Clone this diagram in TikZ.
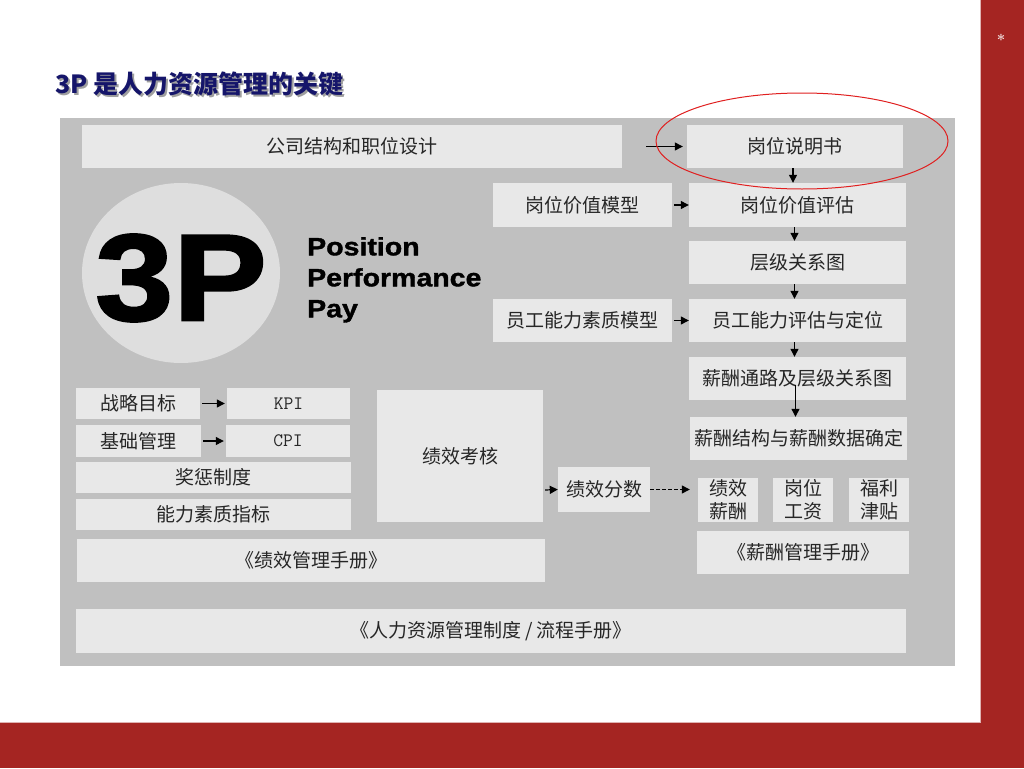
\documentclass[tikz,border=0pt]{standalone}
\usepackage{fontspec}
\newfontfamily\cjk{Noto Sans CJK SC}
\newfontfamily\blackfont[FakeStretch=1.14,FakeBold=1.5]{Liberation Sans Bold}
\newfontfamily\bigfont[FakeStretch=1.14,FakeBold=2]{Liberation Sans Bold}
\usetikzlibrary{arrows.meta}
\definecolor{panel}{HTML}{C0C0C0}
\definecolor{boxfill}{HTML}{E8E8E8}
\definecolor{brand}{HTML}{A52522}
\definecolor{navy}{HTML}{15156A}
\definecolor{disc}{HTML}{DEDEDE}
\definecolor{ovalred}{HTML}{E02020}
\tikzset{
  box/.style={fill=boxfill, inner sep=0pt, font=\cjk\fontsize{19}{23}\selectfont, align=center, text=black!85},
  lat/.style={fill=boxfill, inner sep=0pt, font=\ttfamily\fontsize{19}{23}\selectfont, text=black!85},
  arr/.style={-{Triangle[length=8pt,width=8pt]}, line width=1.2pt},
}
\begin{document}
\begin{tikzpicture}[x=1pt,y=-1pt]
\useasboundingbox (0,0) rectangle (1024,768);
\fill[white] (0,0) rectangle (1024,768);
% frame bands
\fill[brand] (980,0) rectangle (1024,768);
\fill[brand] (0,722) rectangle (1024,768);
\draw[brand!35, line width=0.8pt] (980,0) -- (980,722) -- (0,722);
\node[text=white!88!brand, font=\bfseries\fontsize{15}{15}\selectfont, inner sep=0] (star) at (1001,40) {*};

% title
\node[anchor=base west, font=\cjk\bfseries\fontsize{25}{25}\selectfont, text=gray!75, inner sep=0] (titleshadow) at (57,95) {3P 是人力资源管理的关键};
\node[anchor=base west, font=\cjk\bfseries\fontsize{25}{25}\selectfont, text=navy, inner sep=0] (title) at (55,93) {3P 是人力资源管理的关键};

% panel
\fill[panel] (60,118) rectangle (955,666);

% 3P disc
\fill[disc] (181,273) ellipse [x radius=99pt, y radius=90pt];
\node[font=\bigfont\fontsize{123}{123}\selectfont, inner sep=0] (threep) at (181,278) {3P};
\node[anchor=north west, align=left, font=\blackfont\fontsize{25}{31}\selectfont, inner sep=0] (ppp) at (307,237) {Position\\Performance\\Pay};

% right column
\node[box, minimum width=540pt, minimum height=43pt] (gs) at (352,146.5) {公司结构和职位设计};
\node[box, minimum width=216pt, minimum height=43pt] (gwsms) at (795,146.5) {岗位说明书};
\node[box, minimum width=179pt, minimum height=44pt] (gwjzmx) at (582.5,205) {岗位价值模型};
\node[box, minimum width=217pt, minimum height=44pt] (gwjzpg) at (797.5,205) {岗位价值评估};
\node[box, minimum width=217pt, minimum height=43pt] (cjgxt) at (797.5,262.5) {层级关系图};
\node[box, minimum width=179pt, minimum height=43pt] (ygmx) at (582.5,320.5) {员工能力素质模型};
\node[box, minimum width=217pt, minimum height=43pt] (ygpg) at (797.5,320.5) {员工能力评估与定位};
\node[box, minimum width=217pt, minimum height=43pt] (xctl) at (797.5,378.5) {薪酬通路及层级关系图};
\node[box, minimum width=217pt, minimum height=43pt] (xcjg) at (798.5,438.5) {薪酬结构与薪酬数据确定};
\node[box, minimum width=60pt, minimum height=44pt] (jxxc) at (728,500) {绩效\\薪酬};
\node[box, minimum width=60pt, minimum height=44pt] (gwgz) at (803,500) {岗位\\工资};
\node[box, minimum width=60pt, minimum height=44pt] (fljt) at (879,500) {福利\\津贴};
\node[box, minimum width=212pt, minimum height=43pt] (xcsc) at (803,552.5) {《薪酬管理手册》};

% left column
\node[box, minimum width=124pt, minimum height=31pt] (zlmb) at (138,403.5) {战略目标};
\node[lat, minimum width=123pt, minimum height=31pt] (kpi) at (288.5,403.5) {KPI};
\node[box, minimum width=125pt, minimum height=32pt] (jcgl) at (138.5,441) {基础管理};
\node[lat, minimum width=124pt, minimum height=32pt] (cpi) at (288,441) {CPI};
\node[box, minimum width=275pt, minimum height=31pt] (jczd) at (213.5,477.5) {奖惩制度};
\node[box, minimum width=275pt, minimum height=31pt] (nlsz) at (213.5,514.5) {能力素质指标};
\node[box, minimum width=166pt, minimum height=132pt] (jxkh) at (460,456) {绩效考核};
\node[box, minimum width=92pt, minimum height=45pt] (jxfs) at (604,489.5) {绩效分数};
\node[box, minimum width=468pt, minimum height=43pt] (jxsc) at (311,560.5) {《绩效管理手册》};
\node[box, minimum width=830pt, minimum height=44pt] (hr) at (491,631) {《人力资源管理制度 / 流程手册》};

% connectors
\draw[arr] ([xshift=24pt]gs.east) -- ([xshift=-4pt]gwsms.west);
\draw[arr] ([xshift=-2pt]gwsms.south) -- ([xshift=-2pt]gwsms.south |- gwjzpg.north);
\draw[arr] ([xshift=2pt]gwjzmx.east) -- (gwjzpg.west);
\draw[arr] ([xshift=-3pt]gwjzpg.south) -- ([xshift=-3pt]gwjzpg.south |- cjgxt.north);
\draw[arr] ([xshift=-3pt]cjgxt.south) -- ([xshift=-3pt]cjgxt.south |- ygpg.north);
\draw[arr] ([xshift=2pt]ygmx.east) -- (ygpg.west);
\draw[arr] ([xshift=-3pt]ygpg.south) -- ([xshift=-3pt]ygpg.south |- xctl.north);
\draw[arr] ([xshift=-2pt,yshift=15pt]xctl.south) -- ([xshift=-2pt]xctl.south |- xcjg.north);
\draw[arr] ([xshift=2pt]zlmb.east) -- ([xshift=-2pt]kpi.west);
\draw[arr] ([xshift=2pt]jcgl.east) -- ([xshift=-2pt]cpi.west);
\draw[arr] ([xshift=2pt,yshift=-34pt]jxkh.east) -- (jxfs.west);
\draw[arr, dashed, dash pattern=on 4pt off 2pt] (jxfs.east) -- ([xshift=-8pt]jxxc.west |- jxfs.east);

% highlight oval
\draw[ovalred, line width=1pt] (802,141) ellipse [x radius=146pt, y radius=48pt];
\end{tikzpicture}
\end{document}
